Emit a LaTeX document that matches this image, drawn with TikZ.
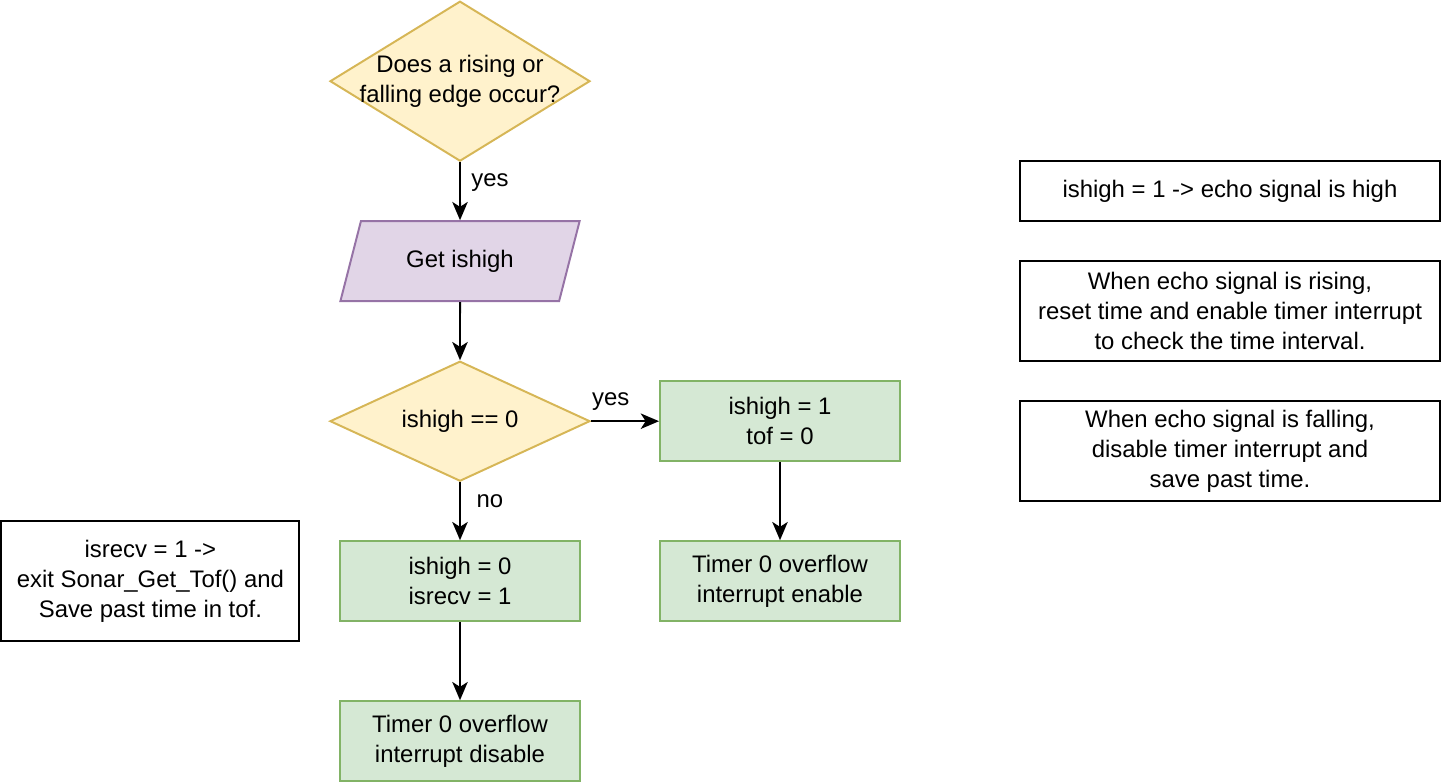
\documentclass[tikz,border=0pt]{standalone}
\usepackage{fontspec}
\setmainfont{Liberation Sans}
\usetikzlibrary{arrows.meta}
\usetikzlibrary{shapes.geometric}
\definecolor{decfill}{HTML}{FFF2CC}
\definecolor{decline}{HTML}{D6B656}
\definecolor{iofill}{HTML}{E1D5E7}
\definecolor{ioline}{HTML}{9673A6}
\definecolor{procfill}{HTML}{D5E8D4}
\definecolor{procline}{HTML}{82B366}
\begin{document}
\begin{tikzpicture}[
  every node/.style={font=\fontsize{17}{21.3}\selectfont, align=center},
  decision/.style={draw=decline, fill=decfill, line width=1.4pt, diamond, aspect=1.625, inner sep=-30pt, minimum width=6.5cm},
  inout/.style={draw=ioline, fill=iofill, line width=1.4pt, trapezium, trapezium left angle=63.43, trapezium right angle=116.57, trapezium stretches=true, minimum width=6cm, minimum height=2cm, inner sep=0pt},
  process/.style={draw=procline, fill=procfill, line width=1.4pt, rectangle, minimum width=6cm, minimum height=2cm, inner sep=0pt},
  remark/.style={draw=black, line width=1.4pt, rectangle, inner sep=0pt},
  flow/.style={-{Stealth[length=13pt, width=11pt, inset=3.5pt]}, line width=1.4pt},
  lbl/.style={inner sep=0pt}
]
\useasboundingbox (0,0.03) rectangle (36.05,-19.52);

\node[decision, minimum height=4cm] (edge) at (11.5,-2) {Does a rising or\\falling edge occur?};
\node[inout] (get) at (11.5,-6.5) {Get ishigh};
\node[decision, minimum height=3cm] (check) at (11.5,-10.5) {ishigh == 0};

\node[process] (high) at (19.5,-10.5) {ishigh = 1\\tof = 0};
\node[process] (enable) at (19.5,-14.5) {Timer 0 overflow\\interrupt enable};
\node[process] (low) at (11.5,-14.5) {ishigh = 0\\isrecv = 1};
\node[process] (disable) at (11.5,-18.5) {Timer 0 overflow\\interrupt disable};

\draw [flow] (edge) to node[lbl, pos=0.35, xshift=21.3pt] {yes} (get);
\draw [flow] (get) to (check);
\draw [flow] (check) to node[lbl, pos=0.29, yshift=14.2pt] {yes} (high);
\draw [flow] (check) to node[lbl, pos=0.33, xshift=21.3pt] {no} (low);
\draw [flow] (high) to (enable);
\draw [flow] (low) to (disable);

% notes
\node[remark, minimum width=7.45cm, minimum height=3cm] (recv) at (3.76,-14.5) {isrecv = 1 ->\\exit Sonar\_Get\_Tof() and\\Save past time in tof.};
\node[remark, minimum width=10.5cm, minimum height=1.5cm] (mean) at (30.75,-4.75) {ishigh = 1 -> echo signal is high};
\node[remark, minimum width=10.5cm, minimum height=2.5cm] (rise) at (30.75,-7.75) {When echo signal is rising,\\reset time and enable timer interrupt\\to check the time interval.};
\node[remark, minimum width=10.5cm, minimum height=2.5cm] (fall) at (30.75,-11.25) {When echo signal is falling,\\disable timer interrupt and\\save past time.};
\end{tikzpicture}
\end{document}
